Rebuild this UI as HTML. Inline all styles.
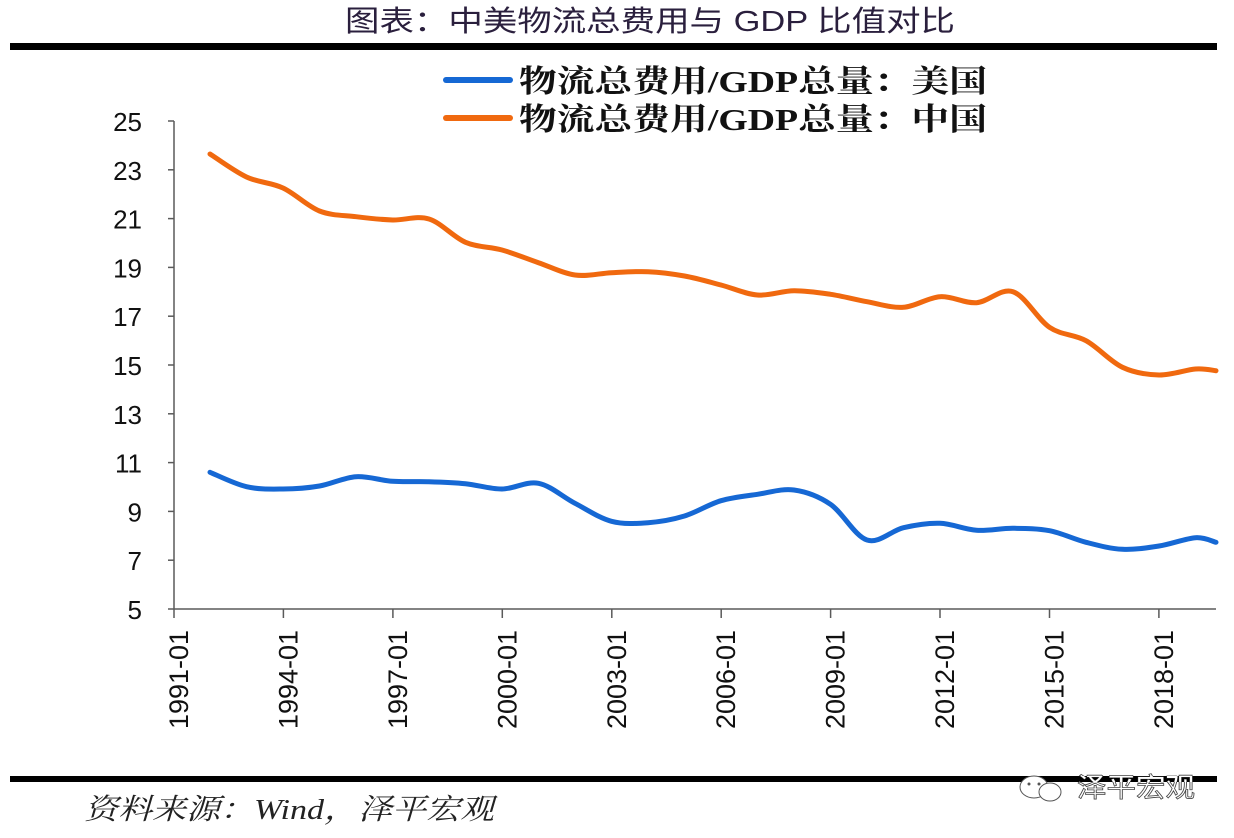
<!DOCTYPE html>
<html>
<head>
<meta charset="utf-8">
<style>
  html, body { margin: 0; padding: 0; background: #ffffff; }
  body { width: 1234px; height: 838px; overflow: hidden; }
  svg { display: block; }
</style>
</head>
<body>
<svg width="1234" height="838" viewBox="0 0 1234 838" xmlns="http://www.w3.org/2000/svg">
  <rect x="0" y="0" width="1234" height="838" fill="#ffffff"/>

  <!-- Title -->
  <text x="345" y="31" font-family="'Liberation Sans','Noto Sans CJK SC',sans-serif" font-size="29" fill="#2a1f3d" textLength="610" lengthAdjust="spacingAndGlyphs">图表：中美物流总费用与 GDP 比值对比</text>
  <rect x="10" y="43" width="1207" height="7" fill="#000"/>

  <!-- Legend -->
  <line x1="446" y1="80" x2="510" y2="80" stroke="#1668d4" stroke-width="6" stroke-linecap="round"/>
  <text x="519" y="92" font-family="'Liberation Serif','Noto Serif CJK SC',serif" font-weight="bold" font-size="31" fill="#111" textLength="468" lengthAdjust="spacingAndGlyphs">物流总费用/GDP总量：美国</text>
  <line x1="446" y1="118" x2="510" y2="118" stroke="#f0690f" stroke-width="6" stroke-linecap="round"/>
  <text x="519" y="130" font-family="'Liberation Serif','Noto Serif CJK SC',serif" font-weight="bold" font-size="31" fill="#111" textLength="468" lengthAdjust="spacingAndGlyphs">物流总费用/GDP总量：中国</text>

  <!-- Axes -->
  <g stroke="#5a5a5a" stroke-width="1.5" fill="none">
    <line x1="174" y1="121" x2="174" y2="609"/>
    <line x1="174" y1="609" x2="1216" y2="609"/>
    <!-- y ticks -->
    <line x1="168" y1="121" x2="174" y2="121"/>
    <line x1="168" y1="169.8" x2="174" y2="169.8"/>
    <line x1="168" y1="218.6" x2="174" y2="218.6"/>
    <line x1="168" y1="267.4" x2="174" y2="267.4"/>
    <line x1="168" y1="316.2" x2="174" y2="316.2"/>
    <line x1="168" y1="365" x2="174" y2="365"/>
    <line x1="168" y1="413.8" x2="174" y2="413.8"/>
    <line x1="168" y1="462.6" x2="174" y2="462.6"/>
    <line x1="168" y1="511.4" x2="174" y2="511.4"/>
    <line x1="168" y1="560.2" x2="174" y2="560.2"/>
    <line x1="168" y1="609" x2="174" y2="609"/>
    <!-- x ticks -->
    <line x1="174" y1="609" x2="174" y2="618"/>
    <line x1="283.4" y1="609" x2="283.4" y2="618"/>
    <line x1="392.9" y1="609" x2="392.9" y2="618"/>
    <line x1="502.3" y1="609" x2="502.3" y2="618"/>
    <line x1="611.8" y1="609" x2="611.8" y2="618"/>
    <line x1="721.2" y1="609" x2="721.2" y2="618"/>
    <line x1="830.6" y1="609" x2="830.6" y2="618"/>
    <line x1="940" y1="609" x2="940" y2="618"/>
    <line x1="1049.5" y1="609" x2="1049.5" y2="618"/>
    <line x1="1158.9" y1="609" x2="1158.9" y2="618"/>
  </g>

  <!-- Y labels -->
  <g font-family="'Liberation Sans',sans-serif" font-size="26" fill="#111" text-anchor="end">
    <text x="142" y="131">25</text>
    <text x="142" y="179.8">23</text>
    <text x="142" y="228.6">21</text>
    <text x="142" y="277.4">19</text>
    <text x="142" y="326.2">17</text>
    <text x="142" y="375">15</text>
    <text x="142" y="423.8">13</text>
    <text x="142" y="472.6">11</text>
    <text x="142" y="521.4">9</text>
    <text x="142" y="570.2">7</text>
    <text x="142" y="619">5</text>
  </g>

  <!-- X labels -->
  <g font-family="'Liberation Sans',sans-serif" font-size="27" fill="#111" text-anchor="end">
    <text transform="translate(188,630) rotate(-90)" textLength="99" lengthAdjust="spacingAndGlyphs">1991-01</text>
    <text transform="translate(297.4,630) rotate(-90)" textLength="99" lengthAdjust="spacingAndGlyphs">1994-01</text>
    <text transform="translate(406.9,630) rotate(-90)" textLength="99" lengthAdjust="spacingAndGlyphs">1997-01</text>
    <text transform="translate(516.3,630) rotate(-90)" textLength="99" lengthAdjust="spacingAndGlyphs">2000-01</text>
    <text transform="translate(625.8,630) rotate(-90)" textLength="99" lengthAdjust="spacingAndGlyphs">2003-01</text>
    <text transform="translate(735.2,630) rotate(-90)" textLength="99" lengthAdjust="spacingAndGlyphs">2006-01</text>
    <text transform="translate(844.6,630) rotate(-90)" textLength="99" lengthAdjust="spacingAndGlyphs">2009-01</text>
    <text transform="translate(954,630) rotate(-90)" textLength="99" lengthAdjust="spacingAndGlyphs">2012-01</text>
    <text transform="translate(1063.5,630) rotate(-90)" textLength="99" lengthAdjust="spacingAndGlyphs">2015-01</text>
    <text transform="translate(1172.9,630) rotate(-90)" textLength="99" lengthAdjust="spacingAndGlyphs">2018-01</text>
  </g>

  <!-- China series (orange) -->
  <path fill="none" stroke="#f0690f" stroke-width="5" stroke-linecap="round" stroke-linejoin="round"
    d="M 210 154 C 216.1 157.8 234.3 171.3 246.5 177
       S 270.8 182.3 283 188
       S 307.3 206.2 319.5 211
       S 343.8 215.2 356 216.7
       S 380.3 219.6 392.5 220
       S 416.8 215.3 429 219
       S 453.3 237.1 465.5 242.3
       S 489.8 246.6 502 250
       S 526.3 258.5 538.5 262.7
       S 562.8 273.3 575 275
       S 599.3 273.3 611.5 272.7
       S 635.8 271.2 648 271.7
       S 672.3 273.8 684.5 276
       S 708.8 281.8 721 285
       S 745.3 294.1 757.5 295
       S 781.8 290.8 794 290.7
       S 818.3 292.5 830.5 294.3
       S 854.8 299.5 867 301.7
       S 891.3 308.1 903.5 307.3
       S 927.8 297.5 940 296.7
       S 964.3 303.5 976.5 302.7
       S 1000.8 287.6 1013 291.7
       S 1037.3 319.1 1049.5 327.3
       S 1073.8 334 1086 340.7
       S 1110.3 361.6 1122.5 367.3
       S 1146.8 374.7 1159 375
       S 1186 369.7 1195.5 369
       S 1212.6 370.4 1216 370.7"/>

  <!-- US series (blue) -->
  <path fill="none" stroke="#1668d4" stroke-width="5" stroke-linecap="round" stroke-linejoin="round"
    d="M 210 472.3 C 216.1 474.7 234.3 483.9 246.5 486.7
       S 270.8 489.1 283 489
       S 307.3 488.1 319.5 486
       S 343.8 477.5 356 476.7
       S 380.3 480.5 392.5 481.3
       S 416.8 481.3 429 481.7
       S 453.3 482.5 465.5 483.7
       S 489.8 489.1 502 489
       S 526.3 480.9 538.5 483.3
       S 562.8 497 575 503.3
       S 599.3 518.1 611.5 521.3
       S 635.8 523.6 648 522.7
       S 672.3 519.7 684.5 516
       S 708.8 504.3 721 500.7
       S 745.3 496.1 757.5 494.3
       S 781.8 488.3 794 490
       S 818.3 496 830.5 504.3
       S 854.8 536.1 867 540
       S 891.3 530.5 903.5 527.7
       S 927.8 522.9 940 523.3
       S 964.3 529.5 976.5 530.3
       S 1000.8 528.2 1013 528.3
       S 1037.3 528.4 1049.5 530.7
       S 1073.8 539.2 1086 542.3
       S 1110.3 548.7 1122.5 549.3
       S 1146.8 547.9 1159 546
       S 1186 538.3 1195.5 537.7
       S 1212.6 541.5 1216 542.3"/>

  <!-- Bottom rule -->
  <rect x="10" y="776" width="1207" height="6" fill="#000"/>

  <!-- Source -->
  <text x="84" y="819" font-family="'Liberation Serif','Noto Serif CJK SC',serif" font-style="italic" font-size="29" fill="#222" textLength="410" lengthAdjust="spacingAndGlyphs">资料来源：Wind，泽平宏观</text>

  <!-- Watermark -->
  <defs>
    <clipPath id="band"><rect x="1000" y="776" width="234" height="6"/></clipPath>
  </defs>
  <g>
    <ellipse cx="1034" cy="787" rx="14" ry="11" fill="#fff" stroke="#555" stroke-width="1"/>
    <ellipse cx="1050" cy="792" rx="11" ry="9" fill="#fff" stroke="#555" stroke-width="1"/>
    <circle cx="1029" cy="784" r="1.5" fill="#555"/>
    <circle cx="1039" cy="784" r="1.5" fill="#555"/>
    <text x="1077" y="797" font-family="'Liberation Sans','Noto Sans CJK SC',sans-serif" font-size="27" fill="#fff" stroke="#444" stroke-width="0.8" textLength="118" lengthAdjust="spacingAndGlyphs">泽平宏观</text>
    <text x="1077" y="797" clip-path="url(#band)" font-family="'Liberation Sans','Noto Sans CJK SC',sans-serif" font-size="27" fill="#fff" textLength="118" lengthAdjust="spacingAndGlyphs">泽平宏观</text>
  </g>
</svg>
</body>
</html>
